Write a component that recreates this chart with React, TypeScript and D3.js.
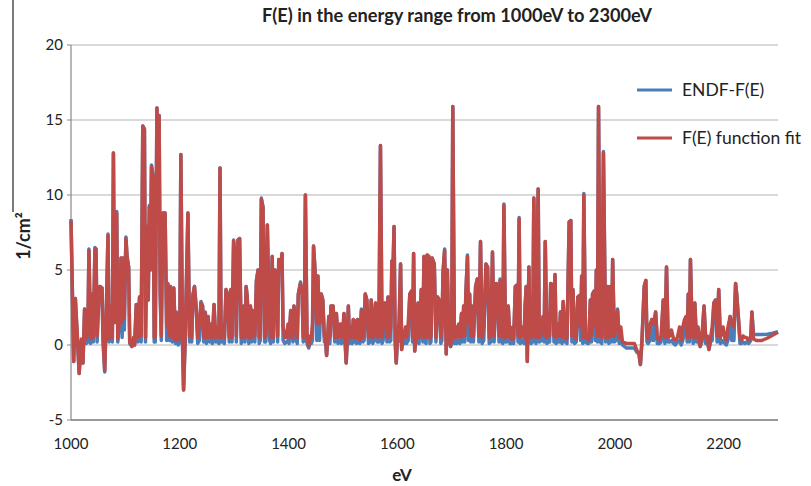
import React from 'react';
import * as d3 from 'd3';

// energy grid (eV) shared by both series, 10 values per row
const energy = [
  1000, 1005, 1008, 1012, 1015, 1019, 1022, 1025, 1028, 1031,
  1033, 1036, 1039, 1041, 1044, 1046, 1048, 1051, 1053, 1057,
  1059, 1062, 1065, 1068, 1070, 1074, 1076, 1078, 1080, 1082,
  1084, 1086, 1090, 1092, 1094, 1096, 1098, 1101, 1103, 1106,
  1108, 1112, 1115, 1117, 1120, 1123, 1126, 1129, 1132, 1135,
  1137, 1140, 1142, 1144, 1146, 1148, 1151, 1153, 1155, 1158,
  1160, 1162, 1164, 1166, 1169, 1173, 1176, 1178, 1181, 1183,
  1186, 1189, 1192, 1194, 1197, 1200, 1202, 1205, 1207, 1210,
  1215, 1218, 1220, 1222, 1224, 1227, 1230, 1233, 1236, 1239,
  1242, 1244, 1247, 1249, 1252, 1255, 1258, 1260, 1263, 1266,
  1270, 1272, 1274, 1276, 1280, 1282, 1285, 1288, 1291, 1294,
  1296, 1299, 1302, 1304, 1307, 1310, 1313, 1316, 1318, 1320,
  1322, 1324, 1327, 1330, 1332, 1334, 1338, 1341, 1344, 1346,
  1348, 1350, 1353, 1356, 1358, 1361, 1365, 1367, 1370, 1372,
  1375, 1378, 1380, 1382, 1386, 1388, 1390, 1393, 1396, 1399,
  1401, 1404, 1406, 1408, 1410, 1414, 1416, 1418, 1422, 1425,
  1427, 1429, 1431, 1434, 1437, 1440, 1442, 1444, 1446, 1449,
  1452, 1454, 1457, 1460, 1463, 1466, 1468, 1470, 1472, 1474,
  1476, 1478, 1482, 1485, 1488, 1491, 1493, 1495, 1497, 1500,
  1502, 1504, 1506, 1508, 1510, 1512, 1515, 1517, 1519, 1521,
  1523, 1525, 1527, 1529, 1531, 1534, 1537, 1539, 1541, 1544,
  1547, 1550, 1552, 1555, 1557, 1560, 1563, 1566, 1569, 1572,
  1574, 1577, 1579, 1581, 1583, 1586, 1588, 1590, 1592, 1594,
  1596, 1598, 1600, 1603, 1606, 1608, 1610, 1612, 1615, 1617,
  1620, 1623, 1626, 1628, 1630, 1632, 1634, 1636, 1638, 1640,
  1642, 1644, 1647, 1649, 1651, 1653, 1655, 1658, 1660, 1662,
  1664, 1668, 1671, 1674, 1677, 1680, 1682, 1684, 1687, 1690,
  1692, 1695, 1698, 1700, 1702, 1705, 1707, 1709, 1711, 1713,
  1715, 1718, 1720, 1722, 1724, 1726, 1729, 1731, 1733, 1735,
  1737, 1740, 1744, 1747, 1750, 1753, 1756, 1759, 1763, 1766,
  1769, 1772, 1775, 1778, 1782, 1785, 1787, 1789, 1792, 1794,
  1796, 1799, 1801, 1804, 1807, 1810, 1812, 1814, 1817, 1820,
  1822, 1824, 1826, 1830, 1833, 1835, 1837, 1839, 1842, 1844,
  1846, 1849, 1851, 1855, 1859, 1861, 1865, 1868, 1870, 1872,
  1875, 1878, 1880, 1882, 1886, 1888, 1890, 1892, 1896, 1898,
  1900, 1903, 1905, 1909, 1912, 1916, 1919, 1921, 1923, 1926,
  1929, 1932, 1935, 1937, 1939, 1941, 1943, 1946, 1950, 1952,
  1955, 1957, 1959, 1962, 1964, 1966, 1968, 1970, 1973, 1976,
  1979, 1983, 1985, 1987, 1989, 1992, 1994, 1996, 1999, 2002,
  2005, 2008, 2011, 2014, 2021, 2030, 2036, 2041, 2044, 2047,
  2050, 2054, 2057, 2059, 2061, 2065, 2068, 2071, 2075, 2078,
  2082, 2085, 2089, 2092, 2095, 2098, 2101, 2104, 2108, 2111,
  2115, 2119, 2122, 2125, 2128, 2131, 2133, 2135, 2137, 2139,
  2141, 2144, 2147, 2150, 2153, 2157, 2160, 2164, 2167, 2170,
  2173, 2176, 2179, 2182, 2185, 2188, 2191, 2194, 2199, 2202,
  2205, 2208, 2212, 2215, 2219, 2222, 2224, 2227, 2230, 2233,
  2236, 2239, 2242, 2246, 2250, 2252, 2255, 2260, 2270, 2280,
  2290, 2300,
];

// ENDF-F(E)
const endf = [
  8.4, -1.1, 3.1, 0.2, -1.9, 0.2, -1.2, 2.4, 0.1, 0.2,
  6.4, 0.1, 3.4, 0.2, 6.5, 6.4, 0.2, 3.0, 3.9, 3.8,
  0.1, -1.8, 2.3, 7.4, 0.2, 2.6, 0.2, 12.8, 1.5, 8.8,
  8.9, 0.2, 2.1, 5.8, 0.5, 5.8, 1.0, 7.2, 5.9, 5.2,
  0.1, -0.1, 0, 0, 2.7, 0.2, 3.2, 0.2, 14.6, 14.4,
  0.2, 7.9, 3.0, 9.3, 5.0, 12.0, 11.2, 0.2, 0.2, 15.8,
  10.0, 15.3, 3.5, 0.3, 8.8, 8.8, 0.3, 4.1, 0.3, 3.9,
  0.2, 3.8, 0.1, 2.2, 0, 0.2, 12.7, 0.1, -3.0, 0.2,
  8.8, 0.2, 2.6, 0.2, 3.3, 3.9, 2.6, 0.1, 0.3, 2.9,
  2.6, 0.2, 2.2, 0.1, 1.9, 0.2, 0.3, 0.1, 2.7, 0.2,
  0.3, 0.1, 11.8, 0.2, 0.3, 0.1, 3.7, 3.4, 0.2, 3.7,
  0.2, 7.0, 5.7, 0.2, 7.0, 7.1, 0.1, 0.3, 2.6, 0.2,
  3.9, 3.2, 0.1, 2.6, 0.2, 2.3, 0.2, 4.3, 5.0, 0.1,
  0.3, 9.8, 9.2, 0.2, 0.2, 8.0, 0.3, 0.1, 5.9, 0.2,
  5.0, 4.8, 0.2, 5.7, 5.0, 6.1, 0.3, 0.1, 0.2, 0.3,
  0.1, 2.3, 1.9, 0.2, 2.6, 0.3, 0.1, 3.4, 4.2, 3.4,
  0.2, 0.3, 10.0, 0.1, -0.2, 0.2, 0.1, 0.3, 6.6, 4.8,
  0.3, 4.6, 0.3, 3.4, 3.0, 0.2, 0.2, -0.7, 0.2, 1.9,
  0.1, 2.6, 2.6, 0.2, 2.1, 0.1, 0.3, 0.3, 0.1, 0.2,
  2.1, 0.1, -1.2, 0.2, 2.6, 0.1, 0.3, 0.1, 1.7, 0.2,
  1.6, 0.1, 1.7, 0.2, 0.1, 2.4, 0.2, 0.3, 3.4, 3.0,
  0.1, 0.2, 3.0, 0.1, 0.3, 2.8, 0.2, 0.2, 13.3, 0.1,
  0.3, 2.8, 2.3, 0.2, 3.2, 0.2, 0.3, 5.6, 4.8, 7.9,
  0.2, -1.2, 0.1, 0.3, 5.4, -0.3, 0.2, 0.1, 0.3, 0.1,
  0.3, 3.4, 3.6, 0.2, 6.1, -0.4, 0.2, 0.3, 2.8, 0.1,
  1.9, 3.7, 0.2, 5.9, 0.2, 0.1, 6.0, 5.9, 0.1, 0.2,
  5.8, 5.4, 0.2, 3.2, 3.0, 0.1, 0.3, 4.8, 6.4, -0.6,
  5.0, 0.2, -0.1, 0.2, 15.9, 0.1, 0.3, 0.1, 0.3, 0.2,
  0.1, 2.1, 0.2, 2.6, 0.2, 3.4, 6.0, 0.3, 3.4, 0.2,
  2.6, 0.2, 3.9, 4.4, 0.2, 6.9, 0.1, 0.3, 5.4, 5.2,
  0.1, 0.2, 6.2, 0.2, 4.1, 3.2, 0.2, 4.4, 0.2, 0.1,
  9.4, 0.2, 0.2, 2.6, 0.1, 0.1, 0.3, 0.1, 3.9, 4.0,
  0.2, 8.5, 0.1, 0.3, 0.1, 2.6, 3.9, -1.1, 5.2, 0.2,
  0.1, 0.2, 9.8, 0.1, 10.4, 0.2, 0.3, 1.9, 0.2, 6.9,
  0.1, 0.3, 0.2, 4.1, 4.0, 0.2, 4.7, 0.1, 0.3, 0.2,
  2.2, 0.1, 2.9, 0.2, 0.1, 8.2, 8.3, 0.2, 3.7, 0.1,
  0.2, 3.2, 3.3, 0.3, 4.6, 0.1, 10.1, 0.2, 0.1, 0.1,
  3.0, 0.2, 3.4, 3.6, 0.3, 5.0, 0.2, 15.9, 0.2, 0.1,
  12.9, 0.2, 0.3, 3.9, 0.1, 3.9, 0.2, 5.7, 0.2, 0.3,
  2.4, 0.1, 0.3, 0.0, -0.2, -0.2, -0.2, -0.5, -0.5, -1.3,
  0.2, 3.9, 4.3, 0.2, 0.1, 0.3, 1.7, 0.3, 2.2, 0.1,
  0.1, 0.2, 3.0, 0.1, 5.2, 0.2, 0.2, 0.3, 0.1, 0.0,
  0.2, 0.3, 0.0, 0.3, 1.0, 1.9, 0.2, 3.4, 0.2, 5.7,
  2.6, 0.1, 2.8, 0.2, 0.3, -0.1, 0.2, 2.6, 0.1, 0.2,
  -0.3, 0.2, 0.3, 2.8, 3.0, 0.2, 3.7, 0.1, 0.3, 0.1,
  0.0, 0.3, 1.9, 0.3, 0.3, 4.1, 3.4, 1.9, 0.1, 0.1,
  0.2, 0.1, 0.2, 0.1, 0.3, 2.2, 0.7, 0.7, 0.7, 0.72,
  0.78, 0.88,
];

// F(E) function fit
const fit = [
  8.3, -1.1, 3.1, 0.4, -1.9, 0.4, -1.2, 2.4, 0.4, 1.2,
  6.3, 0.4, 3.4, 0.5, 6.4, 6.4, 0.6, 3.0, 3.9, 3.8,
  0.4, -1.7, 2.3, 7.3, 0.4, 2.6, 0.5, 12.8, 1.5, 8.8,
  8.8, 0.4, 2.1, 5.8, 1.5, 5.8, 1.8, 7.1, 5.9, 5.2,
  0.2, -0.1, 0.5, 0, 2.7, 0.5, 3.2, 0.6, 14.6, 14.4,
  0.5, 7.9, 3.0, 9.2, 5.0, 11.9, 11.2, 0.5, 0.6, 15.8,
  10.0, 15.3, 3.5, 0.6, 8.8, 8.8, 1.2, 4.1, 0.6, 3.9,
  0.5, 3.8, 0.3, 2.1, 0.3, 0.5, 12.7, 0.4, -3.0, 0.6,
  8.8, 0.6, 2.5, 0.5, 3.3, 3.9, 2.6, 0.5, 1.4, 2.8,
  2.6, 0.5, 2.1, 0.5, 1.9, 0.5, 1.4, 0.5, 2.7, 0.5,
  1.2, 0.5, 11.8, 0.5, 1.4, 0.5, 3.7, 3.4, 0.5, 3.7,
  0.5, 6.9, 5.7, 0.6, 7.0, 7.1, 0.5, 1.4, 2.6, 0.5,
  3.9, 3.2, 0.5, 2.6, 0.5, 2.3, 0.6, 4.3, 5.0, 0.5,
  1.2, 9.7, 9.2, 0.5, 0.6, 8.0, 1.4, 0.5, 5.9, 0.5,
  5.0, 4.8, 0.6, 5.7, 5.0, 6.1, 1.2, 0.5, 0.5, 1.4,
  0.5, 2.3, 1.9, 0.5, 2.6, 1.4, 0.5, 3.4, 4.1, 3.4,
  0.5, 1.2, 10.0, 0.5, -0.1, 0.6, 0.5, 1.4, 6.6, 4.8,
  1.4, 4.6, 1.4, 3.4, 3.0, 0.5, 0.6, -0.7, 0.6, 1.9,
  0.5, 2.6, 2.6, 0.5, 2.1, 0.5, 1.2, 1.4, 0.5, 1.2,
  2.1, 0.5, -1.2, 0.6, 2.6, 0.5, 1.2, 0.5, 1.7, 0.5,
  1.6, 0.5, 1.7, 0.5, 0.3, 2.3, 0.5, 1.2, 3.4, 3.0,
  0.5, 0.6, 3.0, 0.5, 1.4, 2.8, 0.5, 0.6, 13.3, 0.5,
  1.2, 2.8, 2.3, 0.5, 3.2, 0.6, 1.2, 5.6, 4.8, 7.9,
  0.5, -1.2, 0.5, 1.4, 5.4, -0.3, 0.6, 0.5, 1.2, 0.5,
  1.4, 3.4, 3.6, 0.5, 6.1, -0.4, 0.6, 1.2, 2.8, 0.5,
  1.9, 3.7, 0.5, 5.9, 0.6, 0.5, 6.0, 5.9, 0.4, 0.6,
  5.8, 5.4, 0.5, 3.2, 3.0, 0.5, 1.2, 4.8, 6.3, -0.6,
  5.0, 0.5, -0.1, 0.5, 15.9, 0.5, 1.2, 0.5, 1.2, 1.4,
  0.5, 2.1, 0.6, 2.6, 0.6, 3.4, 5.9, 1.4, 3.4, 0.6,
  2.6, 0.6, 3.9, 4.4, 0.6, 6.9, 0.5, 1.2, 5.4, 5.2,
  0.5, 0.6, 6.2, 0.6, 4.1, 3.2, 0.6, 4.3, 0.6, 0.5,
  9.3, 0.5, 0.6, 2.6, 0.5, 0.4, 1.2, 0.4, 3.9, 4.0,
  0.6, 8.4, 0.5, 1.2, 0.5, 2.6, 3.9, -1.1, 5.2, 0.6,
  0.5, 0.6, 9.8, 0.5, 10.4, 0.5, 1.2, 1.9, 0.6, 6.9,
  0.5, 1.4, 0.6, 4.1, 4.0, 0.6, 4.7, 0.5, 1.4, 0.6,
  2.2, 0.5, 2.9, 0.5, 0.4, 8.2, 8.3, 0.6, 3.7, 0.5,
  0.4, 3.2, 3.3, 1.2, 4.6, 0.5, 10.0, 0.5, 0.5, 0.3,
  3.0, 0.6, 3.4, 3.6, 1.2, 5.0, 0.6, 15.9, 0.6, 0.5,
  12.8, 0.5, 1.2, 3.9, 0.5, 3.9, 0.6, 5.7, 0.6, 1.2,
  2.3, 0.5, 1.2, 0.2, 0.1, 0.1, 0.1, -0.4, -0.5, -1.3,
  0.5, 3.9, 4.3, 0.6, 0.4, 1.4, 1.7, 1.4, 2.2, 0.5,
  0.3, 0.6, 3.0, 0.5, 5.2, 0.5, 0.6, 1.0, 0.4, 0.3,
  0.5, 1.2, 0.3, 1.2, 1.7, 1.9, 0.5, 3.4, 0.5, 5.7,
  2.6, 0.5, 2.8, 0.5, 1.2, -0.1, 0.5, 2.6, 0.5, 0.6,
  -0.3, 0.5, 1.2, 2.8, 3.0, 0.6, 3.7, 0.5, 1.2, 0.5,
  0.3, 1.2, 1.9, 1.4, 1.2, 4.1, 3.4, 1.9, 0.5, 0.3,
  0.6, 0.5, 0.5, 0.3, 0.6, 2.2, 0.4, 0.3, 0.3, 0.45,
  0.65, 0.85,
];

const xTicks = [1000, 1200, 1400, 1600, 1800, 2000, 2200];
const yTicks = [-5, 0, 5, 10, 15, 20];
const seriesNames = ['ENDF-F(E)', 'F(E) function fit'];
const seriesColors = ['#4a7ebb', '#be4b48'];

const font = "Lato, 'Open Sans', sans-serif";

const App: React.FC = () => {
  const width = 811;
  const height = 486;
  const left = 71, right = 778, top = 45, bottom = 420;

  const x = d3.scaleLinear().domain([1000, 2300]).range([left, right]);
  const y = d3.scaleLinear().domain([-5, 20]).range([bottom, top]);

  const n = Math.min(energy.length, endf.length, fit.length);
  const idx = d3.range(n);
  const path = (vals: number[]) =>
    d3.line<number>().x((i) => x(energy[i])).y((i) => y(vals[i]))(idx) || '';

  return (
    <svg width={width} height={height} style={{ position: 'absolute', left: 0, top: 0, background: '#fff' }}>
      <text x={457} y={22} textAnchor="middle" fontFamily={font} fontWeight="bold" fontSize={18}
        textLength={390} lengthAdjust="spacingAndGlyphs" fill="#222">
        F(E) in the energy range from 1000eV to 2300eV
      </text>

      {yTicks.filter((t) => t > -5).map((t) => (
        <line key={t} x1={left} x2={right} y1={y(t)} y2={y(t)} stroke="#b4b4b4" strokeWidth={1.2} />
      ))}
      {yTicks.map((t) => (
        <g key={'yt' + t}>
          <line x1={left - 4} x2={left} y1={y(t)} y2={y(t)} stroke="#888" />
          <text x={63} y={y(t) + 5} textAnchor="end" fontFamily={font} fontSize={15} fill="#222">{t}</text>
        </g>
      ))}
      <line x1={left} x2={left} y1={top} y2={bottom} stroke="#888" strokeWidth={1.2} />
      <line x1={left} x2={right} y1={bottom} y2={bottom} stroke="#777" strokeWidth={1.6} />
      {xTicks.map((t) => (
        <text key={'xt' + t} x={x(t)} y={449} textAnchor="middle" fontFamily={font} fontSize={15} fill="#222">{t}</text>
      ))}

      <path d={path(endf)} fill="none" stroke={seriesColors[0]} strokeWidth={3.5} strokeLinejoin="round" />
      <path d={path(fit)} fill="none" stroke={seriesColors[1]} strokeWidth={3.5} strokeLinejoin="round" />

      {seriesNames.map((name, i) => (
        <g key={name}>
          <line x1={637} x2={672} y1={90 + i * 48} y2={90 + i * 48} stroke={seriesColors[i]} strokeWidth={3} />
          <text x={682} y={96 + i * 48} fontFamily={font} fontSize={17.5} fill="#222">{name}</text>
        </g>
      ))}

      <text x={402} y={481} textAnchor="middle" fontFamily={font} fontWeight="bold" fontSize={17} fill="#222">eV</text>

      <line x1={13} x2={13} y1={0} y2={212} stroke="#222" strokeWidth={1.2} />
      <text transform="translate(30,236) rotate(-90)" textAnchor="middle" fontFamily={font} fontWeight="bold" fontSize={18} fill="#222">
        1/cm²
      </text>
    </svg>
  );
};

export default App;
